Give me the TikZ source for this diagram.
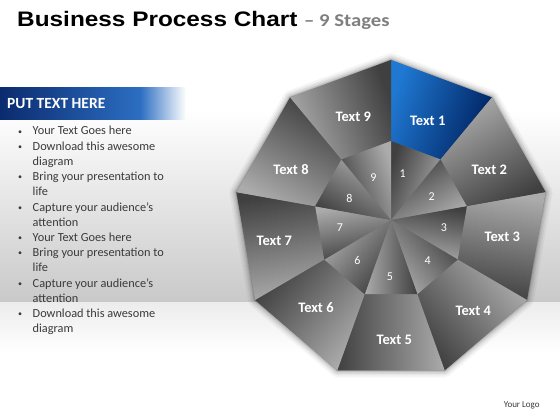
\documentclass[tikz,border=0pt]{standalone}
\usepackage{fontspec}
\setmainfont{Carlito}
\newfontfamily\titlefont{Liberation Sans}
\definecolor{glight}{HTML}{ABABAB}
\definecolor{gdark}{HTML}{404040}
\definecolor{gmid}{HTML}{707070}
\definecolor{blight}{HTML}{1F78D2}
\definecolor{bdark}{HTML}{002260}
\definecolor{navy}{HTML}{0B2B6E}
\definecolor{midblue}{HTML}{2C6EC2}
\definecolor{bgdark}{HTML}{C9C9C9}
\definecolor{bglow}{HTML}{ECECEC}
\definecolor{bodytext}{HTML}{3A3A3A}
\definecolor{subgray}{HTML}{7F7F7F}
\begin{document}
\begin{tikzpicture}[x=1pt,y=-1pt,
  outerseg/.style={top color=glight,bottom color=gdark},
  innerseg/.style={top color=gdark,bottom color=glight},
  lbl/.style={text=white,font=\bfseries\fontsize{14.5}{16}\selectfont,inner sep=0pt},
  num/.style={text=white,font=\fontsize{12}{14}\selectfont,inner sep=0pt},
  btxt/.style={anchor=base west,text=bodytext,font=\fontsize{12.3}{14}\selectfont,inner sep=0pt},
  bdot/.style={anchor=base,text=bodytext,font=\fontsize{8}{10}\selectfont,inner sep=0pt}]
\useasboundingbox (0,0) rectangle (560,420);
% background
\fill[white] (0,0) rectangle (560,420);
\shade[top color=white,bottom color=bgdark] (0,110) rectangle (560,302);
\shade[top color=bglow,bottom color=white] (0,302) rectangle (560,352);
% title
\begin{scope}[shift={(17,27)},xscale=1.16]
\node[transform shape,anchor=base west,inner sep=0pt,font=\titlefont\bfseries\fontsize{21}{24}\selectfont] (title) at (0,0) {Business Process Chart};
\end{scope}
\begin{scope}[shift={(304,27)},xscale=1.15]
\node[transform shape,anchor=base west,inner sep=0pt,text=subgray,font=\bfseries\fontsize{18}{20}\selectfont] (sub) at (0,0) {– 9 Stages};
\end{scope}
% header band
\shade[left color=navy,right color=midblue] (0,88) rectangle (140,119);
\shade[left color=midblue,right color=white] (140,88) rectangle (186,119);
\node[anchor=west,inner sep=0pt,text=white,font=\bfseries\fontsize{15.5}{18}\selectfont] (hdr) at (7,103.5) {PUT TEXT HERE};
% bullets
\foreach \n/\t/\b in {0/Your Text Goes here/1,1/Download this awesome/1,2/diagram/0,3/Bring your presentation to/1,4/life/0,5/Capture your audience’s/1,6/attention/0,7/Your Text Goes here/1,8/Bring your presentation to/1,9/life/0,10/Capture your audience’s/1,11/attention/0,12/Download this awesome/1,13/diagram/0}{
  \node[btxt] (line\n) at (32.5,{135+15.2*\n}) {\t};
  \ifnum\b=1 \node[bdot] (dot\n) at (20,{134+15.2*\n}) {•};\fi
}
% chart geometry
\coordinate (C) at (391,220);
\foreach \k in {0,...,9}{
  \pgfmathsetmacro\a{-90+40*\k}
  \coordinate (o\k) at ([shift={(391,220)}]\a:157 and 160);
  \coordinate (i\k) at ([shift={(391,220)}]\a:77 and 79);
}
% shadow
\foreach \w/\op in {14/0.04,10/0.05,7/0.06,4/0.08,2/0.1}{
  \draw[line width=\w pt,black,opacity=\op,line join=round] (o0)--(o1)--(o2)--(o3)--(o4)--(o5)--(o6)--(o7)--(o8)--cycle;
}
\fill[gmid] (o0)--(o1)--(o2)--(o3)--(o4)--(o5)--(o6)--(o7)--(o8)--cycle;
% outer segments
\shade[top color=blight,bottom color=bdark,shading angle=70] (o0)--(o1)--(i1)--(i0)--cycle;
\foreach \k in {2,...,9}{
  \pgfmathtruncatemacro\p{\k-1}
  \pgfmathsetmacro\sa{110-40*\k}
  \shade[outerseg,shading angle=\sa] (o\p)--(o\k)--(i\k)--(i\p)--cycle;
}
% inner triangles
\foreach \k in {1,...,9}{
  \pgfmathtruncatemacro\p{\k-1}
  \pgfmathsetmacro\sa{110-40*\k}
  \shade[innerseg,shading angle=\sa] (C)--(i\p)--(i\k)--cycle;
}
% labels
\node[lbl] (t1) at (427.7,120.7) {Text 1};
\node[lbl] (t2) at (489.3,170) {Text 2};
\node[lbl] (t3) at (502.3,236.7) {Text 3};
\node[lbl] (t4) at (473.3,311) {Text 4};
\node[lbl] (t5) at (394.3,340) {Text 5};
\node[lbl] (t6) at (316,307.3) {Text 6};
\node[lbl] (t7) at (274.3,241) {Text 7};
\node[lbl] (t8) at (291,170) {Text 8};
\node[lbl] (t9) at (353.3,116.7) {Text 9};
\node[num] (n1) at (402.7,173.3) {1};
\node[num] (n2) at (431.7,196.7) {2};
\node[num] (n3) at (444,227.3) {3};
\node[num] (n4) at (427.7,260.7) {4};
\node[num] (n5) at (390,276.7) {5};
\node[num] (n6) at (357.3,260.7) {6};
\node[num] (n7) at (340,227.3) {7};
\node[num] (n8) at (349.3,198.3) {8};
\node[num] (n9) at (373.3,177.3) {9};
% logo
\node[inner sep=0pt,text=bodytext,font=\fontsize{9}{10}\selectfont] (logo) at (521.7,405.7) {Your Logo};
\end{tikzpicture}
\end{document}
